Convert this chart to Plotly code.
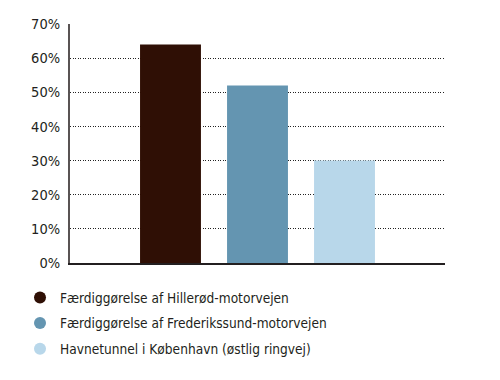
import plotly.graph_objects as go

names = ["Færdiggørelse af Hillerød-motorvejen",
         "Færdiggørelse af Frederikssund-motorvejen",
         "Havnetunnel i København (østlig ringvej)"]
values = [64, 52, 30]
colors = ["#2f0f05", "#6495b1", "#b8d7ea"]
yticks = [0, 10, 20, 30, 40, 50, 60, 70]

FONT = "DejaVu Sans Condensed, sans-serif"
TXT = "#231f20"

fig = go.Figure()
for i, (n, v, c) in enumerate(zip(names, values, colors)):
    fig.add_trace(go.Bar(x=[i], y=[v], width=0.7, marker=dict(color=c, line=dict(width=0)),
                         showlegend=False, hoverinfo="skip"))
for i, (n, c) in enumerate(zip(names, colors)):
    fig.add_trace(go.Scatter(x=[None], y=[None], mode="markers", name=n,
                             marker=dict(symbol="circle", size=14, color=c),
                             legendgroup=f"g{i}"))

xr = [-1.155, 3.155]
fig.update_layout(
    width=484, height=364,
    margin=dict(l=62, r=47, t=16, b=109, autoexpand=False),
    paper_bgcolor="white", plot_bgcolor="rgba(0,0,0,0)",
    barmode="overlay",
    font=dict(family=FONT, color=TXT),
    legend=dict(x=0.0248, y=0.247, xref="container", yref="container",
                xanchor="left", yanchor="top",
                font=dict(size=13.6, family=FONT, color=TXT),
                tracegroupgap=5, itemsizing="constant", bgcolor="rgba(0,0,0,0)"),
    xaxis=dict(range=xr, showgrid=False, zeroline=False, showline=True,
               linecolor=TXT, linewidth=2, tickvals=[xr[1]], ticktext=[""],
               ticks="inside", ticklen=7, tickwidth=2, tickcolor=TXT, fixedrange=True),
    yaxis=dict(range=[0, 70], tickvals=yticks, ticktext=[f"{t}%" for t in yticks],
               showgrid=True, gridcolor="#222222", griddash="1px,1.5px", gridwidth=1,
               zeroline=False, showline=True, linecolor="#595353", linewidth=2,
               ticks="", ticklabelstandoff=5,
               tickfont=dict(size=14.5, family=FONT, color=TXT), fixedrange=True),
)
fig.write_html("out.html")
